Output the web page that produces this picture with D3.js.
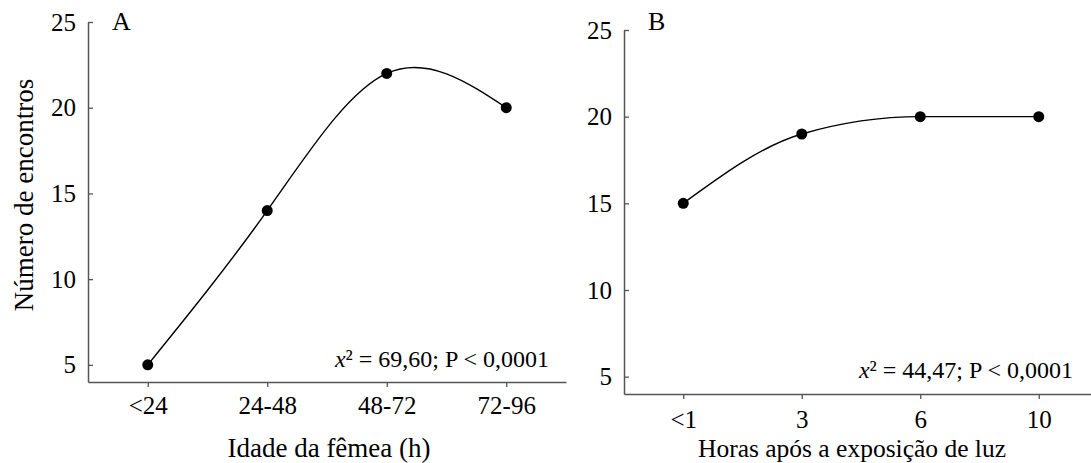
<!DOCTYPE html>
<html>
<head>
<meta charset="utf-8">
<script src="https://cdn.jsdelivr.net/npm/d3@7"></script>
<style>
  body { margin: 0; background: white; }
  text { font-family: "Liberation Serif", "Times New Roman", serif; fill: black; }
</style>
</head>
<body>
<script>
var w = 1091;
var h = 463;

// panel A
var idadeCats = ["<24", "24-48", "48-72", "72-96"];
var idadeVals = [5, 14, 22, 20];
// panel B
var horasCats = ["<1", "3", "6", "10"];
var horasVals = [15, 19, 20, 20];

var yTicks = [5, 10, 15, 20, 25];
var axisColor = "#555";

var svg = d3.select("body").append("svg")
  .attr("width", w)
  .attr("height", h);

function panel(cats, vals, opt){
  var x = d3.scalePoint()
    .domain(cats)
    .range([opt.x0, opt.x1])
    .padding(0.5);
  var y = d3.scaleLinear()
    .domain([4, 25])
    .range([opt.y0, opt.y1]);

  var g = svg.append("g");

  var ax = g.append("g")
    .attr("transform", "translate(0," + opt.y0 + ")")
    .call(d3.axisBottom(x).tickSizeInner(5).tickSizeOuter(0).tickPadding(opt.xPad));
  var ay = g.append("g")
    .attr("transform", "translate(" + opt.x0 + ",0)")
    .call(d3.axisLeft(y).tickValues(yTicks).tickSizeInner(-5).tickSizeOuter(0).tickPadding(12));
  [ax, ay].forEach(function(a){
    a.select(".domain").attr("stroke", axisColor).attr("stroke-width", 1.5);
    a.selectAll(".tick line").attr("stroke", axisColor).attr("stroke-width", 1.3);
    a.selectAll("text").attr("font-size", 25).attr("fill", "black");
  });

  var line = d3.line()
    .x(function(d, i){ return x(cats[i]); })
    .y(function(d){ return y(d); })
    .curve(opt.curve);

  g.append("path")
    .datum(vals)
    .attr("d", line)
    .attr("fill", "none")
    .attr("stroke", "black")
    .attr("stroke-width", 1.4);

  g.selectAll("circle")
    .data(vals)
    .join("circle")
    .attr("cx", function(d, i){ return x(cats[i]); })
    .attr("cy", function(d){ return y(d); })
    .attr("r", 5.5)
    .attr("fill", "black");

  g.append("text")
    .attr("x", opt.letterX)
    .attr("y", 30)
    .attr("font-size", 26)
    .text(opt.letter);

  g.append("text")
    .attr("x", opt.titleX)
    .attr("y", 457)
    .attr("text-anchor", "middle")
    .attr("font-size", opt.titleSize)
    .text(opt.title);

  // chi-square note
  var st = g.append("text")
    .attr("x", opt.statX)
    .attr("y", opt.statY)
    .attr("text-anchor", "end")
    .attr("font-size", 24);
  st.append("tspan").attr("font-style", "italic").text("x");
  st.append("tspan").text("² = " + opt.chi + "; P < 0,0001");
}

panel(idadeCats, idadeVals, {
  x0: 88, x1: 566, y0: 382, y1: 22, xPad: 9,
  curve: d3.curveNatural,
  letter: "A", letterX: 112,
  title: "Idade da fêmea (h)", titleX: 329, titleSize: 27,
  chi: "69,60", statX: 549, statY: 367
});

panel(horasCats, horasVals, {
  x0: 624, x1: 1098, y0: 394, y1: 30, xPad: 11,
  curve: d3.curveMonotoneX,
  letter: "B", letterX: 648,
  title: "Horas após a exposição de luz", titleX: 852, titleSize: 25.5,
  chi: "44,47", statX: 1073, statY: 378
});

svg.append("text")
  .attr("transform", "translate(24,195) rotate(-90)")
  .attr("text-anchor", "middle")
  .attr("dominant-baseline", "central")
  .attr("font-size", 27)
  .text("Número de encontros");
</script>
</body>
</html>
